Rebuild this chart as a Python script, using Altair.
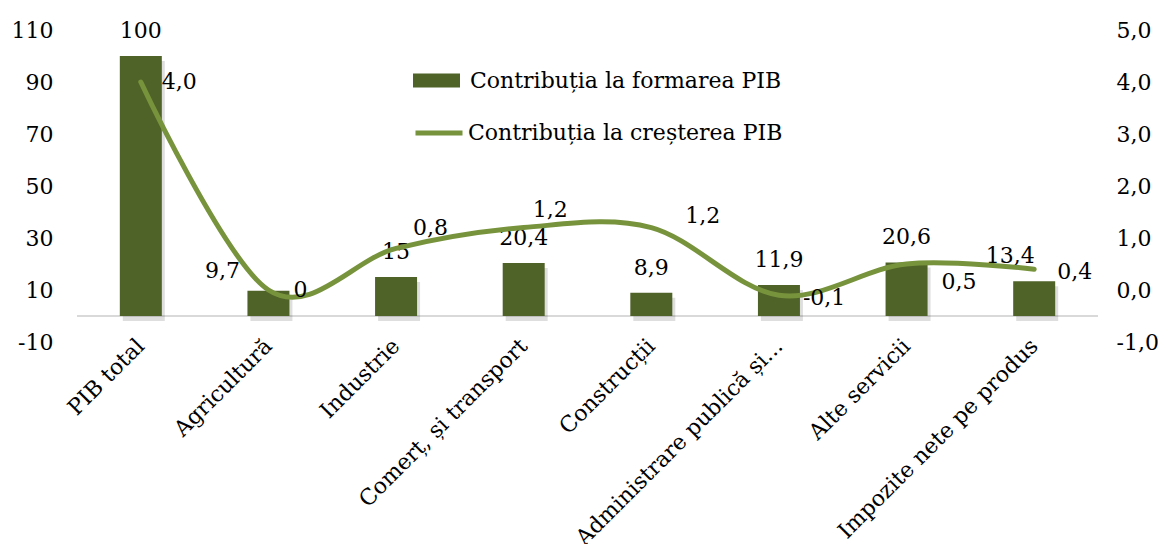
import altair as alt
import pandas as pd

categories = ["PIB total", "Agricultură", "Industrie", "Comerț, și transport", "Construcții",
              "Administrare publică și...", "Alte servicii", "Impozite nete pe produs"]
formare = [100, 9.7, 15, 20.4, 8.9, 11.9, 20.6, 13.4]
formare_labels = ["100", "9,7", "15", "20,4", "8,9", "11,9", "20,6", "13,4"]
crestere = [4.0, 0.0, 0.8, 1.2, 1.2, -0.1, 0.5, 0.4]
crestere_labels = ["4,0", "0", "0,8", "1,2", "1,2", "-0,1", "0,5", "0,4"]
left_ticks = [-10, 10, 30, 50, 70, 90, 110]
right_ticks = [-1, 0, 1, 2, 3, 4, 5]

s_bar = "Contribuția la formarea PIB"
s_line = "Contribuția la creșterea PIB"

df = pd.DataFrame({
    "cat": categories,
    "formare": formare,
    "flab": formare_labels,
    "crestere": crestere,
    "clab": crestere_labels,
    "sb": [s_bar] * len(categories),
    "sl": [s_line] * len(categories),
})

FONT = "DejaVu Serif"
FS = 22
DARK = "#4F6228"
LIGHT = "#77933C"

# label placement (layout only), keyed by category position
bar_label_offsets = {1: (-46, -8), 7: (-24, -13)}          # (dx, dy) overrides
line_label_offsets = {0: (21, 0), 1: (25, 0), 2: (17, -20), 3: (9, -18),
                      4: (34, -12), 5: (24, 3), 6: (35, 18), 7: (23, 3)}

xenc = alt.X("cat:N", sort=categories, title=None,
             scale=alt.Scale(paddingInner=0, paddingOuter=0),
             axis=alt.Axis(labelAngle=-45, labelFont=FONT, labelFontSize=FS, labelColor="black",
                           domain=False, ticks=False, labelPadding=0, labelLimit=500))

yleft = alt.Y("formare:Q", title=None,
              scale=alt.Scale(domain=[-10, 110], nice=False, zero=False),
              axis=alt.Axis(values=left_ticks, grid=False, domain=False, ticks=False,
                            labelExpr="(datum.value < 0 ? '-' : '') + format(abs(datum.value), 'd')",
                            labelFont=FONT, labelFontSize=FS, labelColor="black", labelPadding=24))

base = alt.Chart(df)
xs = alt.X("cat:N", sort=categories)

shadow = base.mark_bar(size=42, color="black", opacity=0.13, xOffset=3, yOffset=5, y2Offset=5).encode(
    x=xs, y=alt.Y("formare:Q"),
)

bars = base.mark_bar(size=42, color=DARK).encode(
    x=xenc,
    y=yleft,
    fill=alt.Fill("sb:N", scale=alt.Scale(range=[DARK]),
                  legend=alt.Legend(title=None, orient="none", legendX=336, legendY=27,
                                    symbolType="M-1,-0.3L1,-0.3L1,0.3L-1,0.3Z", symbolSize=2209,
                                    symbolStrokeWidth=0, symbolOpacity=1,
                                    labelFont=FONT, labelFontSize=FS, labelColor="black",
                                    labelLimit=500, labelOffset=10)),
)

baseline = base.mark_rule(color="#D9D9D9", strokeWidth=2).encode(
    y=alt.datum(0),
    x=alt.value(0), x2=alt.value(1021),
)

default_bar = [categories[i] for i in range(len(categories)) if i not in bar_label_offsets]
bar_texts = [
    base.transform_filter(alt.FieldOneOfPredicate(field="cat", oneOf=default_bar))
    .mark_text(font=FONT, fontSize=FS, baseline="bottom", dy=-13, color="black")
    .encode(x=xs, y=alt.Y("formare:Q"), text="flab:N")
]
for i, (dx, dy) in bar_label_offsets.items():
    bar_texts.append(
        base.transform_filter(alt.FieldEqualPredicate(field="cat", equal=categories[i]))
        .mark_text(font=FONT, fontSize=FS, baseline="bottom", dx=dx, dy=dy, color="black")
        .encode(x=xs, y=alt.Y("formare:Q"), text="flab:N")
    )

left_layer = alt.layer(baseline, shadow, bars, *bar_texts)

yright = alt.Y("crestere:Q", title=None,
               scale=alt.Scale(domain=[-1, 5], nice=False, zero=False),
               axis=alt.Axis(orient="right", values=right_ticks, grid=False, domain=False, ticks=False,
                             labelExpr="(datum.value < 0 ? '-' : '') + replace(format(abs(datum.value), '.1f'), '.', ',')",
                             labelFont=FONT, labelFontSize=FS, labelColor="black", labelPadding=18))

line = base.mark_line(strokeWidth=5, interpolate="cardinal", strokeCap="round").encode(
    x=xs,
    y=yright,
    stroke=alt.Stroke("sl:N", scale=alt.Scale(range=[LIGHT]),
                      legend=alt.Legend(title=None, orient="none", legendX=336, legendY=77,
                                        symbolType="stroke", symbolSize=2209, symbolStrokeWidth=5,
                                        labelFont=FONT, labelFontSize=FS, labelColor="black",
                                        labelLimit=500, labelOffset=3)),
)

line_texts = []
for i, (dx, dy) in line_label_offsets.items():
    line_texts.append(
        base.transform_filter(alt.FieldEqualPredicate(field="cat", equal=categories[i]))
        .mark_text(font=FONT, fontSize=FS, align="left", baseline="middle", dx=dx, dy=dy, color="black")
        .encode(x=xs, y=alt.Y("crestere:Q"), text="clab:N")
    )

right_layer = alt.layer(line, *line_texts)

chart = alt.layer(left_layer, right_layer).resolve_scale(y="independent").properties(
    width=1021, height=312,
    background="white",
    padding={"left": 69, "top": 22, "right": 60, "bottom": 202},
    autosize=alt.AutoSizeParams(type="none"),
).configure_view(stroke="transparent", strokeWidth=0)

chart.save("out.html", embed_options={"renderer": "svg", "actions": False})
